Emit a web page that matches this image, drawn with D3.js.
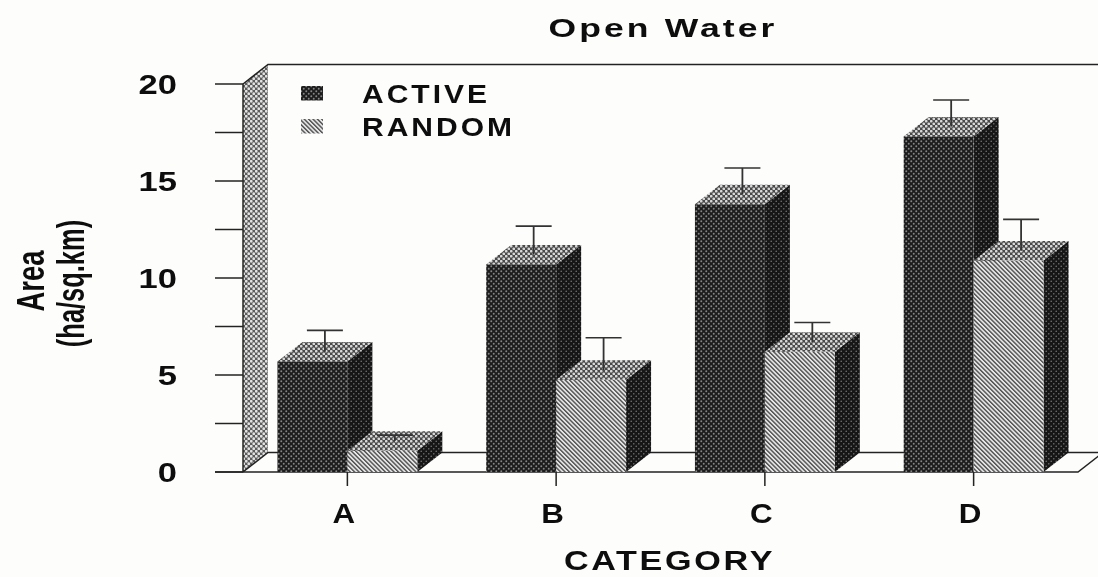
<!DOCTYPE html>
<html>
<head>
<meta charset="utf-8">
<script src="https://cdnjs.cloudflare.com/ajax/libs/d3/7.8.5/d3.min.js"></script>
<style>
html, body { margin: 0; padding: 0; background: #fdfdfc; }
svg { display: block; }
text { font-family: "Liberation Sans", Arial, sans-serif; font-weight: bold; fill: #111; }
</style>
</head>
<body>
<div id="chart"></div>
<script>
// chart values
var categories = ['A', 'B', 'C', 'D'];
var seriesNames = ['ACTIVE', 'RANDOM'];
var activeValues = [5.7, 10.7, 13.8, 17.3];
var randomValues = [1.1, 4.75, 6.2, 10.9];
var activeErrors = [1.1, 1.47, 1.37, 1.37];
var randomErrors = [0.3, 1.67, 1.0, 1.62];
var yTickLabels = [0, 5, 10, 15, 20];
var yTickMarks = [0, 2.5, 5, 7.5, 10, 12.5, 15, 17.5, 20];

var width = 1098, height = 577;
var depthX = 25, depthY = -19.5; // 3d offset

var svg = d3.select('#chart').append('svg').attr('width', width).attr('height', height);
var defs = svg.append('defs');

// scan softness
defs.append('filter').attr('id', 'soft').append('feGaussianBlur').attr('stdDeviation', 0.6);
defs.append('filter').attr('id', 'softText').append('feGaussianBlur').attr('stdDeviation', 0.45);

// dotted fill: dot pattern on a base colour
function dotPattern(id, base, dot, size, r) {
    var p = defs.append('pattern').attr('id', id).attr('patternUnits', 'userSpaceOnUse')
        .attr('width', size).attr('height', size);
    p.append('rect').attr('width', size).attr('height', size).attr('fill', base);
    p.append('circle').attr('cx', size / 4).attr('cy', size / 4).attr('r', r).attr('fill', dot);
    p.append('circle').attr('cx', size * 3 / 4).attr('cy', size * 3 / 4).attr('r', r).attr('fill', dot);
}
dotPattern('frontActive', '#1f1f1f', '#858585', 5, 0.95);
dotPattern('sideActive', '#141414', '#6a6a6a', 5, 0.85);
dotPattern('topFace', '#4a4a4a', '#d8d8d8', 5, 1.35);
dotPattern('wallFace', '#5c5c5c', '#e2e2e2', 5, 1.4);

var hatch = defs.append('pattern').attr('id', 'frontRandom').attr('patternUnits', 'userSpaceOnUse')
    .attr('width', 3.1).attr('height', 3.1).attr('patternTransform', 'rotate(-45)');
hatch.append('rect').attr('width', 3.1).attr('height', 3.1).attr('fill', '#e6e6e6');
hatch.append('rect').attr('width', 1.4).attr('height', 3.1).attr('fill', '#4f4f4f');

var x = d3.scaleBand().domain(categories).range([243, 1078]).paddingInner(0.33).paddingOuter(0.165);
var y = d3.scaleLinear().domain([0, 20]).range([472, 84]);
var barW = x.bandwidth() / 2;

var plot = svg.append('g').attr('filter', 'url(#soft)');
var line = d3.line();

// left wall strip
plot.append('path')
    .attr('d', line([[x.range()[0], y(0)], [x.range()[0], y(20)], [x.range()[0] + depthX, y(20) + depthY], [x.range()[0] + depthX, y(0) + depthY]]) + 'Z')
    .attr('fill', 'url(#wallFace)');

// back wall top and floor lines
var axisStyle = function (sel) { sel.attr('fill', 'none').attr('stroke', '#222').attr('stroke-width', 1.5); };
plot.append('path')
    .attr('d', line([[x.range()[0], y(20)], [x.range()[0] + depthX, y(20) + depthY], [width, y(20) + depthY]]))
    .call(axisStyle);
plot.append('path')
    .attr('d', line([[x.range()[0], y(0)], [x.range()[0] + depthX, y(0) + depthY], [width, y(0) + depthY]]))
    .call(axisStyle);
plot.append('path')
    .attr('d', line([[215, y(0)], [x.range()[1], y(0)], [x.range()[1] + depthX, y(0) + depthY]]))
    .call(axisStyle);
plot.append('line').attr('x1', x.range()[0]).attr('x2', x.range()[0]).attr('y1', y(20)).attr('y2', y(0)).call(axisStyle);

// y ticks
plot.selectAll('.ytick').data(yTickMarks).enter().append('line')
    .attr('class', 'ytick')
    .attr('x1', 215).attr('x2', x.range()[0])
    .attr('y1', function (d) { return y(d); }).attr('y2', function (d) { return y(d); })
    .call(axisStyle);

// x ticks
plot.selectAll('.xtick').data(categories).enter().append('line')
    .attr('class', 'xtick')
    .attr('x1', function (d) { return x(d) + barW; }).attr('x2', function (d) { return x(d) + barW; })
    .attr('y1', y(0)).attr('y2', y(0) + 14)
    .call(axisStyle);

// one 3d bar with its error bar
function drawBar(g, left, value, err, frontFill) {
    var right = left + barW, top = y(value), base = y(0);
    var midX = left + barW / 2 + depthX / 2, midY = top + depthY / 2;
    g.append('path')
        .attr('d', line([[right, top], [right + depthX, top + depthY], [right + depthX, base + depthY], [right, base]]) + 'Z')
        .attr('fill', 'url(#sideActive)');
    g.append('path')
        .attr('d', line([[left, top], [left + depthX, top + depthY], [right + depthX, top + depthY], [right, top]]) + 'Z')
        .attr('fill', 'url(#topFace)');
    g.append('rect')
        .attr('x', left).attr('y', top).attr('width', barW).attr('height', base - top)
        .attr('fill', frontFill);
    var capY = y(value + err) + depthY / 2;
    g.append('line').attr('x1', midX).attr('x2', midX).attr('y1', capY).attr('y2', midY)
        .attr('stroke', '#333').attr('stroke-width', 1.8);
    g.append('line').attr('x1', midX - 18).attr('x2', midX + 18).attr('y1', capY).attr('y2', capY)
        .attr('stroke', '#333').attr('stroke-width', 1.6);
}

categories.forEach(function (c, i) {
    var g = plot.append('g');
    drawBar(g, x(c), activeValues[i], activeErrors[i], 'url(#frontActive)');
    drawBar(g, x(c) + barW, randomValues[i], randomErrors[i], 'url(#frontRandom)');
});

// legend swatches
var legendFills = ['url(#frontActive)', 'url(#frontRandom)'];
var legendY = d3.scalePoint().domain(seriesNames).range([93, 126]);
plot.selectAll('.swatch').data(seriesNames).enter().append('rect')
    .attr('class', 'swatch')
    .attr('x', 301).attr('width', 22).attr('height', 14.5)
    .attr('y', function (d) { return legendY(d) - 7; })
    .attr('fill', function (d, i) { return legendFills[i]; });

// text, stretched to match the wide face in the scan
var labels = svg.append('g').attr('filter', 'url(#softText)');

function wideText(txt, cx, cy, size, sx, spacing) {
    return labels.append('text').text(txt)
        .attr('transform', 'translate(' + cx + ',' + cy + ') scale(' + sx + ',1)')
        .attr('text-anchor', 'middle')
        .attr('font-size', size)
        .attr('letter-spacing', spacing || 0);
}

wideText('Open Water', 663, 37, 25, 1.42, 2.2);
wideText('CATEGORY', 669.5, 570, 28, 1.22, 2.2);

labels.selectAll('.ylab').data(yTickLabels).enter().append('text')
    .attr('class', 'ylab')
    .attr('transform', function (d) { return 'translate(177,' + (y(d) + 9.5) + ') scale(1.28,1)'; })
    .attr('text-anchor', 'end').attr('font-size', 27)
    .text(function (d) { return d; });

categories.forEach(function (c) {
    wideText(c, x(c) + barW - 3.5, 523, 28, 1.12);
});

seriesNames.forEach(function (s) {
    labels.append('text').text(s)
        .attr('transform', 'translate(362,' + (legendY(s) + 9.5) + ') scale(1.2,1)')
        .attr('font-size', 25).attr('letter-spacing', 2.5);
});

// rotated narrow y title
labels.append('text').text('Area')
    .attr('transform', 'translate(44,281) rotate(-90) scale(0.72,1)')
    .attr('text-anchor', 'middle').attr('font-size', 38);
labels.append('text').text('(ha/sq.km)')
    .attr('transform', 'translate(84,283.5) rotate(-90) scale(0.67,1)')
    .attr('text-anchor', 'middle').attr('font-size', 38);
</script>
</body>
</html>
